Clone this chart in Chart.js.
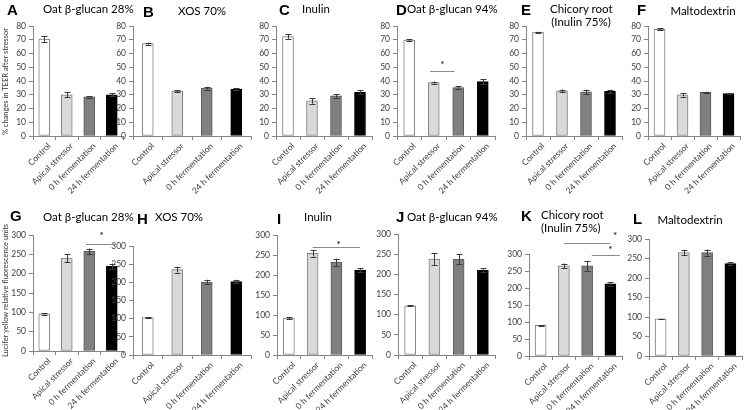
<!DOCTYPE html>
<html>
<head>
<meta charset="utf-8">
<script src="https://cdn.jsdelivr.net/npm/chart.js@4"></script>
<style>
  body { margin: 0; background: #fff; }
  #fig { position: relative; width: 747px; height: 410px; overflow: hidden; font-family: Lato, sans-serif; }
  .panel { position: absolute; }
  .letter { position: absolute; font: bold 15px "Liberation Sans", Arial, sans-serif; color: #000; line-height: 1; }
  .title { position: absolute; font-size: 11.5px; color: #000; line-height: 1.15; text-align: center; white-space: nowrap; }
  .ytitle { position: absolute; font-size: 7.5px; color: #333; white-space: nowrap; transform: rotate(-90deg); transform-origin: center; }
</style>
</head>
<body>
<div id="fig"></div>
<script>
// categories shared by every panel
const categories = ['Control', 'Apical stressor', '0 h fermentation', '24 h fermentation'];

// top row (A-F): % changes in TEER after stressor
const teerLetters = ['A', 'B', 'C', 'D', 'E', 'F'];
const teerTitles = ['Oat β-glucan 28%', 'XOS 70%', 'Inulin', 'Oat β-glucan 94%', 'Chicory root\n(Inulin 75%)', 'Maltodextrin'];
const teerMeans = [
    [70.5, 30.0, 28.5, 30.0],
    [67.2, 32.6, 34.8, 34.2],
    [72.3, 25.5, 29.2, 31.8],
    [69.8, 38.8, 35.2, 39.5],
    [75.5, 32.8, 32.2, 32.5],
    [77.6, 30.0, 31.8, 30.8]
];
const teerErrors = [
    [2.0, 1.8, 0.5, 1.2],
    [0.8, 0.8, 1.0, 0.4],
    [1.6, 2.0, 1.3, 1.6],
    [0.5, 0.8, 1.0, 2.0],
    [0.3, 1.0, 1.5, 1.2],
    [0.8, 1.3, 0.5, 0.5]
];
const teerTicks = [0, 10, 20, 30, 40, 50, 60, 70, 80];

// bottom row (G-L): Lucifer yellow relative fluorescence units
const lyLetters = ['G', 'H', 'I', 'J', 'K', 'L'];
const lyTitles = ['Oat β-glucan 28%', 'XOS 70%', 'Inulin', 'Oat β-glucan 94%', 'Chicory root\n(Inulin 75%)', 'Maltodextrin'];
const lyMeans = [
    [96, 240, 258, 219],
    [103, 235, 201, 202],
    [92, 254, 232, 212],
    [122, 238, 238, 210],
    [90, 265, 265, 212],
    [95, 265, 265, 237]
];
const lyErrors = [
    [2, 10, 7, 7],
    [1.5, 8, 6, 5],
    [2, 8, 9, 5],
    [1, 15, 12, 5],
    [1.5, 7, 15, 5],
    [1, 7, 8, 4]
];
const lyTicks = [0, 50, 100, 150, 200, 250, 300];

// significance marks: [from category, to category, line value, star category, star value]
const teerSignif = [[], [], [], [[0.85, 1.85, 47.5, 1.35, 53.5]], [], []];
const lySignif = [
    [[1.85, 3.15, 278, 2.55, 304]],
    [],
    [[1, 3, 271, 2.1, 281]],
    [],
    [[1, 3, 333, 3.2, 358], [2.2, 3.4, 296, 3.0, 318]],
    []
];

const barFill = ['#ffffff', '#d9d9d9', '#808080', '#000000'];
const barEdge = ['#7f7f7f', '#7f7f7f', '#595959', '#000000'];

// ---- layout (pixels) ----
const YW = 34;
const topLayout = [
    { ax: 33, right: 123, letter: [7, 2], title: [43, 2, 80] },
    { ax: 133, right: 251, letter: [143, 4], title: [178, 4, 44] },
    { ax: 276, right: 372, letter: [279, 2], title: [300, 2, 32] },
    { ax: 397, right: 495, letter: [396, 2], title: [407, 2, 90] },
    { ax: 526, right: 622, letter: [521, 2], title: [550, 2, 62] },
    { ax: 648, right: 740, letter: [637, 2], title: [670, 4, 66] }
];
const botLayout = [
    { ax: 33, right: 123, top: 235, zero: 351, letter: [10, 208], title: [43, 210, 82] },
    { ax: 133, right: 251, top: 246, zero: 355, letter: [137, 211], title: [155, 210, 36] },
    { ax: 277, right: 372, top: 235, zero: 355, letter: [277, 211], title: [303, 210, 30] },
    { ax: 398, right: 495, top: 234, zero: 355, letter: [396, 209], title: [407, 210, 90] },
    { ax: 529, right: 622, top: 254, zero: 356, letter: [521, 208], title: [541, 208, 56] },
    { ax: 649, right: 742, top: 239, zero: 356, letter: [633, 211], title: [656, 213, 68] }
];

const fig = document.getElementById('fig');

const errorBars = {
    id: 'errorBars',
    afterDatasetsDraw(chart) {
        const ds = chart.data.datasets[0];
        const y = chart.scales.y;
        const ctx = chart.ctx;
        ctx.save();
        ctx.strokeStyle = '#3a3a3a';
        ctx.lineWidth = 1;
        chart.getDatasetMeta(0).data.forEach((bar, i) => {
            const v = ds.data[i], e = ds.errors[i];
            const x = Math.round(bar.x) + 0.5;
            const y1 = y.getPixelForValue(v + e), y2 = y.getPixelForValue(v - e);
            ctx.beginPath();
            ctx.moveTo(x, y1); ctx.lineTo(x, y2);
            ctx.moveTo(x - 3, Math.round(y1) + 0.5); ctx.lineTo(x + 3, Math.round(y1) + 0.5);
            ctx.moveTo(x - 3, Math.round(y2) + 0.5); ctx.lineTo(x + 3, Math.round(y2) + 0.5);
            ctx.stroke();
        });
        ctx.restore();
    }
};

const signifMarks = {
    id: 'signifMarks',
    afterDraw(chart, args, opts) {
        const x = chart.scales.x, y = chart.scales.y, ctx = chart.ctx;
        ctx.save();
        (opts.marks || []).forEach(m => {
            const yy = Math.round(y.getPixelForValue(m[2])) + 0.5;
            ctx.strokeStyle = '#8c8c8c';
            ctx.lineWidth = 1;
            ctx.beginPath();
            ctx.moveTo(x.getPixelForValue(m[0]), yy);
            ctx.lineTo(x.getPixelForValue(m[1]), yy);
            ctx.stroke();
            ctx.fillStyle = '#000';
            ctx.font = '10px Lato';
            ctx.textAlign = 'center';
            ctx.textBaseline = 'middle';
            ctx.fillText('*', x.getPixelForValue(m[3]), y.getPixelForValue(m[4]) + 2);
        });
        ctx.restore();
    }
};

function addText(cls, txt, x, y, w) {
    const d = document.createElement('div');
    d.className = cls;
    d.style.left = x + 'px';
    d.style.top = y + 'px';
    if (w) d.style.width = w + 'px';
    d.innerHTML = txt.replace('\n', '<br>');
    fig.appendChild(d);
}

function makePanel(lay, rowTop, rowH, plotTop, plotZero, means, errs, ticks, marks) {
    const wrap = document.createElement('div');
    wrap.className = 'panel';
    const w = lay.right - lay.ax + YW + 4;
    wrap.style.left = (lay.ax - YW) + 'px';
    wrap.style.top = rowTop + 'px';
    wrap.style.width = w + 'px';
    wrap.style.height = rowH + 'px';
    const cv = document.createElement('canvas');
    wrap.appendChild(cv);
    fig.appendChild(wrap);
    const xh = rowTop + rowH - plotZero;

    new Chart(cv, {
        type: 'bar',
        data: {
            labels: categories,
            datasets: [{
                data: means,
                errors: errs,
                backgroundColor: barFill,
                borderColor: barEdge,
                borderWidth: 1,
                borderSkipped: false,
                barThickness: 11
            }]
        },
        options: {
            responsive: true,
            maintainAspectRatio: false,
            animation: false,
            events: [],
            layout: { padding: { top: plotTop - rowTop, right: 4, left: 0, bottom: 0 } },
            plugins: {
                legend: { display: false },
                tooltip: { enabled: false },
                signifMarks: { marks: marks }
            },
            scales: {
                x: {
                    afterFit: s => { s.height = xh; },
                    grid: { display: true, drawOnChartArea: false, drawTicks: true, tickLength: 4, color: '#868686' },
                    border: { color: '#868686' },
                    ticks: {
                        minRotation: 45, maxRotation: 45, autoSkip: false, padding: 1, labelOffset: 5,
                        color: '#404040', font: { family: 'Lato', size: 8.5 }
                    }
                },
                y: {
                    min: 0,
                    max: ticks[ticks.length - 1],
                    afterFit: s => { s.width = YW; },
                    afterBuildTicks: s => { s.ticks = ticks.map(v => ({ value: v })); },
                    grid: { display: true, drawOnChartArea: false, drawTicks: true, tickLength: 4, color: '#868686' },
                    border: { color: '#868686' },
                    ticks: { padding: 3, color: '#404040', font: { family: 'Lato', size: 8.5 } }
                }
            }
        },
        plugins: [errorBars, signifMarks]
    });
}

Chart.defaults.font.family = 'Lato';

teerMeans.forEach((m, i) => {
    const lay = topLayout[i];
    makePanel(lay, 0, 200, 26, 136, m, teerErrors[i], teerTicks, teerSignif[i]);
    addText('letter', teerLetters[i], lay.letter[0], lay.letter[1]);
    addText('title', teerTitles[i], lay.title[0], lay.title[1], lay.title[2]);
});
lyMeans.forEach((m, i) => {
    const lay = botLayout[i];
    makePanel(lay, 200, 210, lay.top, lay.zero, m, lyErrors[i], lyTicks, lySignif[i]);
    addText('letter', lyLetters[i], lay.letter[0], lay.letter[1]);
    addText('title', lyTitles[i], lay.title[0], lay.title[1], lay.title[2]);
});

// rotated y-axis titles
const yt1 = document.createElement('div');
yt1.className = 'ytitle';
yt1.textContent = '% changes in TEER after stressor';
fig.appendChild(yt1);
yt1.style.left = (5 - yt1.offsetWidth / 2) + 'px';
yt1.style.top = (81 - yt1.offsetHeight / 2) + 'px';

const yt2 = document.createElement('div');
yt2.className = 'ytitle';
yt2.textContent = 'Lucifer yellow relative fluorescence units';
fig.appendChild(yt2);
yt2.style.left = (5 - yt2.offsetWidth / 2) + 'px';
yt2.style.top = (290 - yt2.offsetHeight / 2) + 'px';
</script>
</body>
</html>
